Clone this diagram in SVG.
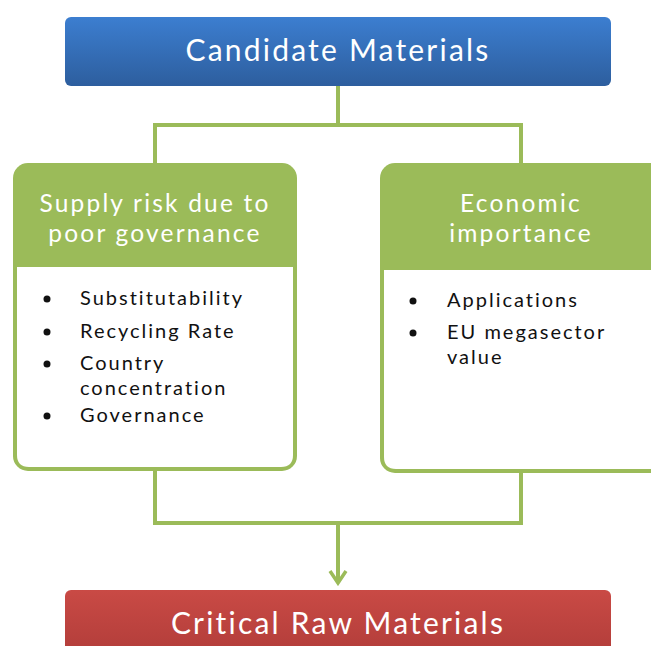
<svg xmlns="http://www.w3.org/2000/svg" width="651" height="646" viewBox="0 0 651 646">
  <defs>
    <linearGradient id="blueGrad" x1="0" y1="0" x2="0" y2="1">
      <stop offset="0" stop-color="#3c7ed0"/>
      <stop offset="1" stop-color="#2d5e9e"/>
    </linearGradient>
    <linearGradient id="redGrad" x1="0" y1="0" x2="0" y2="1">
      <stop offset="0" stop-color="#c94a45"/>
      <stop offset="1" stop-color="#b03c39"/>
    </linearGradient>
    <marker id="chev" viewBox="0 0 16 20" refX="13" refY="10" markerWidth="16" markerHeight="20" markerUnits="userSpaceOnUse" orient="auto">
      <path d="M1,2 L13,10 L1,18" fill="none" stroke="#9bbb59" stroke-width="3.5"/>
    </marker>
  </defs>
  <style>
    .conn { fill: none; stroke: #9bbb59; stroke-width: 4; }
    .title { font-family: Lato, "Open Sans", sans-serif; fill: #ffffff; text-anchor: middle; }
    .big { font-size: 30px; letter-spacing: 2.2px; }
    .head { font-size: 24.5px; letter-spacing: 2.2px; }
    .item { font-family: Lato, "Open Sans", sans-serif; font-size: 20px; letter-spacing: 2px; fill: #111111; }
    .green { fill: #9bbb59; }
    .white { fill: #ffffff; }
  </style>
  <rect width="651" height="646" fill="#ffffff"/>

  <g id="connectors">
    <path class="conn" d="M338,86 V125 M155,163 V125 H521 V163"/>
    <path class="conn" d="M155,470 V523 H521 V472 M338,523 V583" marker-end="url(#chev)"/>
  </g>

  <g id="candidate-materials">
    <rect x="65" y="17" width="546" height="69" rx="6" fill="url(#blueGrad)"/>
    <text class="title big" x="338" y="61">Candidate Materials</text>
  </g>

  <g id="supply-risk">
    <rect x="13" y="163" width="284" height="308" rx="15" class="green"/>
    <path class="white" d="M17,267 H293 V455 Q293,467 281,467 H29 Q17,467 17,455 Z"/>
    <text class="title head" x="155" y="212">Supply risk due to</text>
    <text class="title head" x="155" y="242">poor governance</text>
    <g class="item">
      <circle cx="47" cy="299" r="3.5"/>
      <circle cx="47" cy="332" r="3.5"/>
      <circle cx="47" cy="364" r="3.5"/>
      <circle cx="47" cy="416" r="3.5"/>
      <text x="80" y="305">Substitutability</text>
      <text x="80" y="338">Recycling Rate</text>
      <text x="80" y="370">Country</text>
      <text x="80" y="395">concentration</text>
      <text x="80" y="422">Governance</text>
    </g>
  </g>

  <g id="economic-importance">
    <rect x="380" y="163" width="290" height="310" rx="15" class="green"/>
    <path class="white" d="M384,270 H670 V469 H396 Q384,469 384,457 Z"/>
    <text class="title head" x="521" y="212">Economic</text>
    <text class="title head" x="521" y="242">importance</text>
    <g class="item">
      <circle cx="413" cy="301" r="3.5"/>
      <circle cx="413" cy="333" r="3.5"/>
      <text x="447" y="307">Applications</text>
      <text x="447" y="339">EU megasector</text>
      <text x="447" y="364">value</text>
    </g>
  </g>

  <g id="critical-raw-materials">
    <rect x="65" y="590" width="546" height="70" rx="6" fill="url(#redGrad)"/>
    <text class="title big" x="338" y="634">Critical Raw Materials</text>
  </g>
</svg>
